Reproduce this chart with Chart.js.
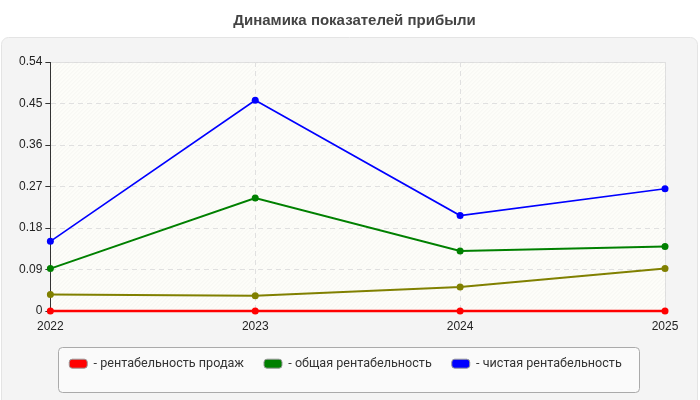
<!DOCTYPE html>
<html>
<head>
<meta charset="utf-8">
<script src="https://cdn.jsdelivr.net/npm/chart.js@4"></script>
<style>
  html, body { margin: 0; padding: 0; background: #fff; }
  #wrap { width: 700px; height: 400px; }
</style>
</head>
<body>
<div id="wrap"><canvas id="profit-chart" width="700" height="400"></canvas></div>
<script>
"use strict";

var years = ['2022', '2023', '2024', '2025'];
var yTicks = [0, 0.09, 0.18, 0.27, 0.36, 0.45, 0.54];

var salesReturn = [0, 0, 0, 0];
var totalReturn = [0.092, 0.245, 0.130, 0.140];
var netReturn = [0.151, 0.457, 0.207, 0.265];
var otherReturn = [0.036, 0.033, 0.052, 0.092];

var seriesNames = ['рентабельность продаж', 'общая рентабельность', 'чистая рентабельность', ''];

// grey panel behind the chart, hatched plot area, legend frame
var backdrop = {
    id: 'backdrop',
    afterLayout: function (chart) {
        // centre title and legend on the page, not on the padded box
        var t = chart.titleBlock;
        t.left += 14; t.right += 14; t.top += 1; t.bottom += 1;
        var lg = chart.legend;
        lg.left += 5; lg.right += 5; lg.top -= 4; lg.bottom -= 4;
    },
    beforeDraw: function (chart) {
        var c = chart.ctx;
        var a = chart.chartArea;
        c.save();
        c.fillStyle = '#f4f4f4';
        c.strokeStyle = '#e4e4e4';
        c.lineWidth = 1;
        c.beginPath();
        c.roundRect(1.5, 37.5, 696, 370, 7);
        c.fill();
        c.stroke();

        c.fillStyle = '#fdfdf9';
        c.fillRect(a.left, a.top, a.right - a.left, a.bottom - a.top);
        c.beginPath();
        c.rect(a.left, a.top, a.right - a.left, a.bottom - a.top);
        c.clip();
        c.strokeStyle = 'rgba(0,0,0,0.035)';
        c.lineWidth = 1;
        for (var x = a.left - (a.bottom - a.top); x < a.right; x += 4) {
            c.beginPath();
            c.moveTo(x, a.bottom);
            c.lineTo(x + (a.bottom - a.top), a.top);
            c.stroke();
        }
        c.restore();

        c.save();
        c.strokeStyle = '#dddddd';
        c.lineWidth = 1;
        c.beginPath();
        c.moveTo(a.left, a.top + 0.5);
        c.lineTo(a.right + 0.5, a.top + 0.5);
        c.lineTo(a.right + 0.5, a.bottom);
        c.stroke();
        c.restore();

        c.save();
        c.fillStyle = '#fafafa';
        c.strokeStyle = '#aaaaaa';
        c.lineWidth = 1;
        c.beginPath();
        c.roundRect(58.5, 347.5, 581, 45, 4);
        c.fill();
        c.stroke();
        c.restore();
    }
};

var ctx = document.getElementById('profit-chart');

var myLineChart = new Chart(ctx, {
    type: 'line',
    data: {
        labels: years,
        datasets: [
            {
                label: seriesNames[0],
                data: salesReturn,
                borderColor: '#ff0000',
                backgroundColor: '#ff0000',
                borderWidth: 2.5,
                pointRadius: 3.5,
                pointBorderWidth: 0,
                clip: false,
                order: 0
            },
            {
                label: seriesNames[1],
                data: totalReturn,
                borderColor: '#008000',
                backgroundColor: '#008000',
                borderWidth: 2,
                pointRadius: 3.5,
                pointBorderWidth: 0,
                order: 2
            },
            {
                label: seriesNames[2],
                data: netReturn,
                borderColor: '#0000ff',
                backgroundColor: '#0000ff',
                borderWidth: 1.6,
                pointRadius: 3.5,
                pointBorderWidth: 0,
                order: 1
            },
            {
                label: seriesNames[3],
                data: otherReturn,
                borderColor: '#808000',
                backgroundColor: '#808000',
                borderWidth: 2,
                pointRadius: 3.5,
                pointBorderWidth: 0,
                order: 3
            }
        ]
    },
    options: {
        responsive: false,
        animation: false,
        layout: { padding: { left: 16, right: 35, top: 0, bottom: 16 } },
        plugins: {
            title: {
                display: true,
                text: 'Динамика показателей прибыли',
                color: '#444444',
                font: { family: 'Liberation Sans, Arial', size: 15, weight: 'bold' },
                padding: { top: 11, bottom: 33 }
            },
            legend: {
                position: 'bottom',
                labels: {
                    color: '#333333',
                    font: { family: 'Roboto', size: 12.6 },
                    boxWidth: 18,
                    boxHeight: 9,
                    useBorderRadius: true,
                    borderRadius: 3,
                    padding: 20,
                    sort: function (a, b) { return a.datasetIndex - b.datasetIndex; },
                    filter: function (item) { return item.text !== ''; },
                    generateLabels: function (chart) {
                        var items = Chart.defaults.plugins.legend.labels.generateLabels(chart);
                        items.forEach(function (it) {
                            if (it.text !== '') it.text = '- ' + it.text;
                            it.lineWidth = 1;
                            it.strokeStyle = '#999999';
                        });
                        return items;
                    }
                }
            },
            tooltip: { enabled: false }
        },
        scales: {
            x: {
                offset: false,
                grid: {
                    color: '#e0e0e0',
                    drawTicks: false
                },
                border: { display: true, color: '#333333', dash: [5, 4] },
                ticks: {
                    color: '#222222',
                    font: { family: 'Liberation Sans, Arial', size: 12 },
                    padding: 8,
                    maxRotation: 0
                }
            },
            y: {
                min: 0,
                max: 0.54,
                afterBuildTicks: function (axis) {
                    axis.ticks = yTicks.map(function (v) { return { value: v }; });
                },
                grid: {
                    color: '#e0e0e0',
                    tickColor: '#333333',
                    tickLength: 5
                },
                border: { display: true, color: '#333333', dash: [5, 4] },
                ticks: {
                    color: '#222222',
                    font: { family: 'Liberation Sans, Arial', size: 12 },
                    padding: 3,
                    callback: function (v) { return String(+v.toFixed(2)); }
                }
            }
        }
    },
    plugins: [backdrop]
});
</script>
</body>
</html>
